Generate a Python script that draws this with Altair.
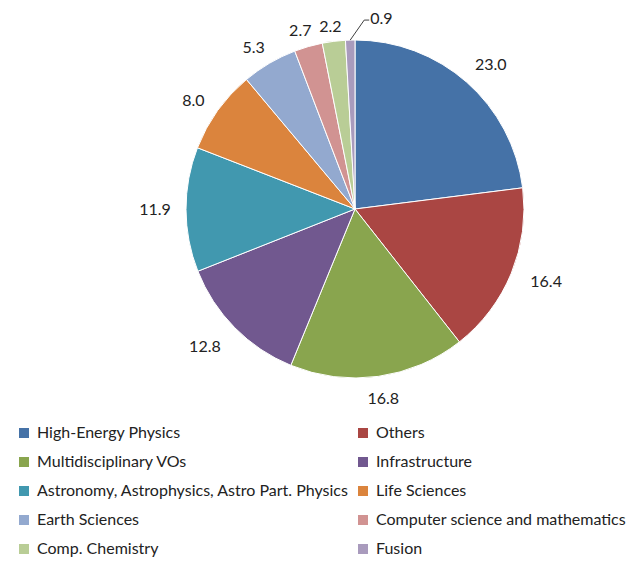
import altair as alt
import pandas as pd

categories = ["High-Energy Physics", "Others", "Multidisciplinary VOs", "Infrastructure",
              "Astronomy, Astrophysics, Astro Part. Physics", "Life Sciences", "Earth Sciences",
              "Computer science and mathematics", "Comp. Chemistry", "Fusion"]
values = [23.0, 16.4, 16.8, 12.8, 11.9, 8.0, 5.3, 2.7, 2.2, 0.9]
colors = ["#4572A7", "#AA4643", "#89A54E", "#71588F", "#4198AF",
          "#DB843D", "#93A9CF", "#D19392", "#B9CD96", "#A99BBD"]

df = pd.DataFrame({"category": categories, "value": values, "idx": list(range(len(values)))})
df["label"] = [f"{v:.1f}" for v in values]

# legend fills columns first, so list entries so that rows read across
legend_order = categories[0::2] + categories[1::2]

CX, CY, R = 347, 201, 169
FONT = "Lato"

color_enc = alt.Color("category:N", scale=alt.Scale(domain=categories, range=colors),
                      legend=alt.Legend(orient="none", legendX=8, legendY=417, columns=2,
                                        values=legend_order,
                                        title=None, symbolType="square", symbolSize=100,
                                        symbolStrokeWidth=0, labelFont=FONT, labelFontSize=16,
                                        labelColor="#222222", labelOffset=5, rowPadding=13,
                                        columnPadding=6, padding=0, labelLimit=400))


def with_mid(chart):
    return chart.transform_window(
        cum="sum(value)", sort=[alt.SortField("idx")], frame=[None, 0]
    ).transform_joinaggregate(total="sum(value)").transform_calculate(
        mid="(datum.cum - datum.value/2) / datum.total * 2 * PI",
    )


arcs = alt.Chart(df).mark_arc(radius=R, stroke="white", strokeWidth=1).encode(
    theta=alt.Theta("value:Q", stack=True),
    order=alt.Order("idx:Q"),
    x=alt.value(CX), y=alt.value(CY),
    color=color_enc,
)

# label box sits just outside the rim: offset grows with the box's half-size,
# and labels lean slightly away from the vertical axis
labels = with_mid(alt.Chart(df)).transform_filter(
    "datum.category != 'Fusion'"
).transform_calculate(
    lr="170 + 7.5 * length(datum.label) * abs(sin(datum.mid))"
       " + (cos(datum.mid) > 0 ? 10.5 : 18) * abs(cos(datum.mid))",
    la="datum.mid + 0.035 * sin(2 * datum.mid)",
).transform_calculate(
    lx=f"{CX} + datum.lr * sin(datum.la)",
    ly=f"{CY} - datum.lr * cos(datum.la)",
).mark_text(font=FONT, fontSize=16, color="#222222").encode(
    x=alt.X("lx:Q", scale=None), y=alt.Y("ly:Q", scale=None),
    text="label:N",
)

leader_base = with_mid(alt.Chart(df)).transform_filter(
    "datum.category == 'Fusion'"
).transform_calculate(
    x1=f"{CX} + {R} * sin(datum.mid)",
    y1=f"{CY} - {R} * cos(datum.mid)",
).transform_calculate(
    x2="datum.x1 + 14", y2="datum.y1 - 20",
).transform_calculate(
    x3="datum.x2 + 5",
)

small_label = leader_base.mark_text(font=FONT, fontSize=16, color="#222222",
                                    align="left", dx=1, dy=-1).encode(
    x=alt.X("x3:Q", scale=None), y=alt.Y("y2:Q", scale=None), text="label:N")

leader1 = leader_base.mark_rule(color="#404040", strokeWidth=1).encode(
    x=alt.X("x1:Q", scale=None), y=alt.Y("y1:Q", scale=None),
    x2="x2:Q", y2="y2:Q")
leader2 = leader_base.mark_rule(color="#404040", strokeWidth=1).encode(
    x=alt.X("x2:Q", scale=None), y=alt.Y("y2:Q", scale=None),
    x2="x3:Q", y2="y2:Q")

chart = alt.layer(arcs, labels, small_label, leader1, leader2).properties(
    width=619, height=545, padding=0
).configure_view(stroke=None)

chart.save("out.html", embed_options={"renderer": "svg", "actions": False})
